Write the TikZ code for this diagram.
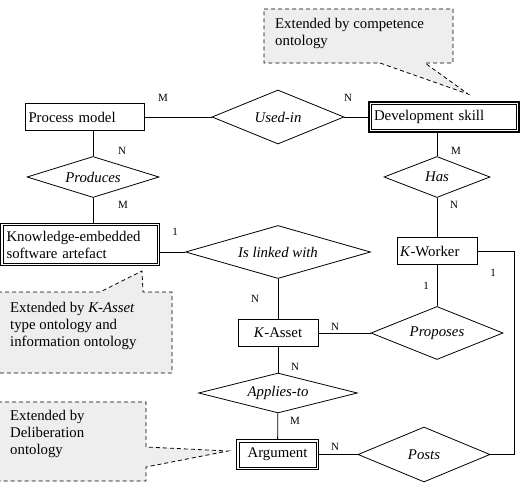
\documentclass[tikz,border=0pt]{standalone}
\usepackage{fontspec}
\setmainfont{Liberation Serif}
\usetikzlibrary{shapes.geometric}
\newcommand{\erfont}{\fontsize{14.8}{17}\selectfont}
\tikzstyle{fEntity} = [rectangle, draw=black, line width=0.8pt, minimum height=27pt, inner sep=3pt]
\tikzstyle{fWeakEntity} = [rectangle, draw=black, line width=1.2pt, inner sep=5pt]
\tikzstyle{fRelation} = [diamond, draw=black, line width=0.8pt, inner sep=0pt, font=\erfont\itshape]
\tikzstyle{fCard} = [font=\fontsize{11}{12}\selectfont, inner sep=0pt]
\tikzstyle{fNote} = [draw=black, fill=gray!13, line width=0.8pt, dash pattern=on 4pt off 3pt]
\tikzstyle{fNoteText} = [anchor=north west, align=left, inner sep=0pt]
\tikzstyle{fLine} = [line width=0.8pt]
\begin{document}
\begin{tikzpicture}[x=1pt, y=-1pt, node distance=60pt, font=\erfont]
    \useasboundingbox (0,0) rectangle (530,489);
    % callouts
    \draw [fNote] (264,9) -- (453,9) -- (453,63) -- (425,63) -- (468,94) -- (380,63) -- (264,63) -- cycle;
    \draw [fNote] (-2,292) -- (100,292) -- (142,271) -- (143,292) -- (172,292) -- (172,373) -- (-2,373);
    \draw [fNote] (-2,402) -- (146,402) -- (146,447) -- (228,451) -- (146,467) -- (146,481) -- (-2,481);
    \node (noteskill) [fNoteText] at (275,18) {Extended by competence\\ontology};
    \node (noteasset) [fNoteText] at (10,302) {Extended by \textit{K-Asset}\\type ontology and\\information ontology};
    \node (notedelib) [fNoteText] at (10,410) {Extended by\\Deliberation\\ontology};

    \node (usedin) [fRelation, minimum width=132pt, minimum height=54pt, aspect=2.44] at (278,117) {Used-in};
    \node (procmodel) [fEntity, left of=usedin, xshift=-133pt, text width=113pt, align=left] {Process model};
    \node (devskill) [fWeakEntity, right of=usedin, xshift=106pt, text width=140pt, align=left, minimum height=30pt] {Development skill};
    \node (produces) [fRelation, below of=procmodel, xshift=8pt, minimum width=132pt, minimum height=41pt, aspect=3.2] {Produces};
    \node (has) [fRelation, below of=devskill, xshift=-7pt, minimum width=106pt, minimum height=41pt, aspect=2.6] {Has};
    \node (knowledge) [fWeakEntity, below of=produces, xshift=-13pt, yshift=-7.5pt, text width=147pt, align=left, inner sep=6pt, minimum height=42pt] {Knowledge-embedded\\software artefact};
    \node (islinked) [fRelation, below of=usedin, yshift=-75pt, minimum width=185pt, minimum height=53pt, aspect=3.5] {Is linked with};
    \node (kworker) [fEntity, below of=has, yshift=-14pt, text width=74pt, align=left] {\textit{K}-Worker};
    \node (proposes) [fRelation, below of=kworker, yshift=-22pt, minimum width=132pt, minimum height=53pt, aspect=2.5] {Proposes};
    \node (kasset) [fEntity, below of=islinked, yshift=-21pt, minimum width=80pt] {\textit{K}-Asset};
    \node (appliesto) [fRelation, below of=kasset, minimum width=159pt, minimum height=40pt, aspect=4] {Applies-to};
    \node (argument) [fWeakEntity, below of=appliesto, yshift=-1.5pt, xshift=-0.5pt, minimum width=82pt, minimum height=30pt] {Argument};
    \node (posts) [fRelation, right of=argument, xshift=86.5pt, minimum width=132pt, minimum height=55pt, aspect=2.4] {Posts};

    % inner borders of the weak entities
    \foreach \n in {devskill,knowledge,argument}
        \draw [fLine] ([xshift=3pt,yshift=-3pt]\n.north west) rectangle ([xshift=-3pt,yshift=3pt]\n.south east);

    \draw [fLine] (procmodel) -- (usedin);
    \draw [fLine] (usedin) -- (devskill);
    \draw [fLine] (produces.north) -- (produces.north |- procmodel.south);
    \draw [fLine] (produces.south) -- (produces.south |- knowledge.north);
    \draw [fLine] (has.north) -- (has.north |- devskill.south);
    \draw [fLine] (has) -- (kworker);
    \draw [fLine] (islinked.west) -- (islinked.west -| knowledge.east);
    \draw [fLine] (islinked) -- (kasset);
    \draw [fLine] (kworker) -- (proposes);
    \draw [fLine] (kasset) -- (proposes);
    \draw [fLine] (kasset) -- (appliesto);
    \draw [fLine] (appliesto) -- (argument);
    \draw [fLine] (argument) -- (posts);
    \draw [fLine] (kworker.east) -- ++(37pt,0) |- (posts.east);

    \node (cardusedm) [fCard] at (163,98) {M};
    \node (cardusedn) [fCard] at (348,98) {N};
    \node (cardprodn) [fCard] at (122,151) {N};
    \node (cardprodm) [fCard] at (123,205) {M};
    \node (cardhasm) [fCard] at (456,151) {M};
    \node (cardhasn) [fCard] at (454,205) {N};
    \node (cardlinkone) [fCard] at (175,232) {1};
    \node (cardlinkn) [fCard] at (255,299) {N};
    \node (cardpropone) [fCard] at (426,286) {1};
    \node (cardpostone) [fCard] at (493,273) {1};
    \node (cardpropn) [fCard] at (335,327) {N};
    \node (cardapplyn) [fCard] at (295,367) {N};
    \node (cardapplym) [fCard] at (295,421) {M};
    \node (cardpostn) [fCard] at (335,447) {N};
\end{tikzpicture}
\end{document}
